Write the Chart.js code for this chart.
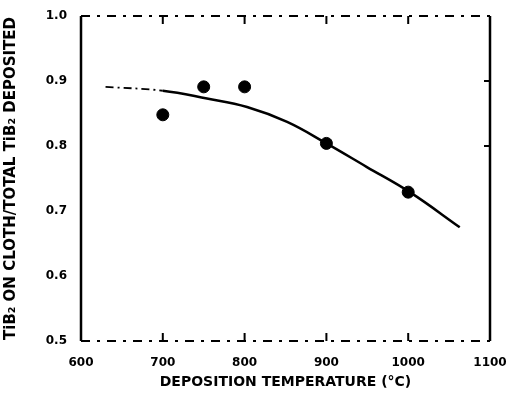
<!DOCTYPE html>
<html>
<head>
  <meta name="viewport" content="width=device-width, initial-scale=1.0">
  <title>TiB2 deposition</title>
  <script src="https://cdn.jsdelivr.net/npm/chart.js"></script>
  <style>
    html, body {
      margin: 0;
      padding: 0;
      background-color: #fff;
    }

    #wrap {
      width: 514px;
      height: 395px;
    }
  </style>
</head>
<body>
  <div id="wrap"><canvas id="myChart"></canvas></div>

  <script>
    // measured points
    const temps = [700, 750, 800, 900, 1000];
    const ratios = [0.848, 0.891, 0.891, 0.804, 0.729];

    // fitted curve
    const curveTemps = [630, 700, 754, 803, 852, 900, 949, 1002, 1063];
    const curveRatios = [0.891, 0.885, 0.873, 0.86, 0.837, 0.804, 0.768, 0.729, 0.675];

    const xTicks = [600, 700, 800, 900, 1000, 1100];
    const yTicks = [0.5, 0.6, 0.7, 0.8, 0.9, 1.0];

    const font = { family: 'DejaVu Sans', weight: 'bold', size: 12 };

    // frame with inward ticks, top and bottom broken like the scan
    const framePlugin = {
      id: 'frame',
      afterDraw(chart) {
        const { ctx, chartArea: a, scales } = chart;
        ctx.save();
        ctx.strokeStyle = '#000';
        ctx.lineWidth = 2.5;
        ctx.beginPath();
        ctx.moveTo(a.left, a.top);
        ctx.lineTo(a.left, a.bottom);
        ctx.moveTo(a.right, a.top);
        ctx.lineTo(a.right, a.bottom);
        ctx.stroke();

        ctx.lineWidth = 2;
        ctx.setLineDash([9, 7, 3, 7]);
        ctx.beginPath();
        ctx.moveTo(a.left, a.top);
        ctx.lineTo(a.right, a.top);
        ctx.moveTo(a.left, a.bottom);
        ctx.lineTo(a.right, a.bottom);
        ctx.stroke();
        ctx.setLineDash([]);

        ctx.beginPath();
        [700, 800, 900, 1000].forEach(v => {
          const x = scales.x.getPixelForValue(v);
          ctx.moveTo(x, a.top);
          ctx.lineTo(x, a.top + 8);
          ctx.moveTo(x, a.bottom);
          ctx.lineTo(x, a.bottom - 8);
        });
        [0.9, 0.8].forEach(v => {
          const y = scales.y.getPixelForValue(v);
          ctx.moveTo(a.right, y);
          ctx.lineTo(a.right - 6, y);
        });
        ctx.stroke();
        ctx.restore();
      }
    };

    const ctx = document.getElementById('myChart').getContext('2d');
    const chart = new Chart(ctx, {
      type: 'scatter',
      data: {
        datasets: [{
          label: 'Fit',
          data: curveTemps.map((t, i) => ({ x: t, y: curveRatios[i] })),
          showLine: true,
          borderColor: '#000',
          borderWidth: 2.5,
          pointRadius: 0,
          tension: 0.4,
          segment: {
            borderDash: c => c.p0DataIndex === 0 ? [8, 4, 2, 4] : undefined,
            borderWidth: c => c.p0DataIndex === 0 ? 1.8 : 2.5
          }
        }, {
          label: 'Data',
          data: temps.map((t, i) => ({ x: t, y: ratios[i] })),
          backgroundColor: '#000',
          borderColor: '#000',
          pointRadius: 6
        }]
      },
      options: {
        responsive: true,
        maintainAspectRatio: false,
        animation: false,
        layout: { padding: { top: 16, right: 24, left: 0, bottom: 0 } },
        plugins: {
          legend: { display: false },
          tooltip: { enabled: false }
        },
        scales: {
          x: {
            type: 'linear',
            min: 600,
            max: 1100,
            afterBuildTicks: s => { s.ticks = xTicks.map(v => ({ value: v })); },
            ticks: { color: '#000', font: font, padding: 7, maxRotation: 0, callback: v => String(v) },
            grid: { display: false },
            border: { display: false },
            title: {
              display: true,
              text: 'DEPOSITION TEMPERATURE (°C)',
              color: '#000',
              font: { family: 'DejaVu Sans', weight: 'bold', size: 14 },
              padding: { top: 4, bottom: 4 }
            },
            afterFit: s => { s.height = 54; }
          },
          y: {
            min: 0.5,
            max: 1.0,
            afterBuildTicks: s => { s.ticks = yTicks.map(v => ({ value: v })); },
            ticks: {
              color: '#000',
              font: font,
              padding: 6,
              callback: v => v.toFixed(1)
            },
            grid: { display: false },
            border: { display: false },
            title: {
              display: true,
              text: 'TiB₂ ON CLOTH/TOTAL TiB₂ DEPOSITED',
              color: '#000',
              font: { family: 'DejaVu Sans', weight: 'bold', size: 15 },
              padding: { top: 2, bottom: 2 }
            },
            afterFit: s => { s.width = 81; }
          }
        }
      },
      plugins: [framePlugin]
    });
  </script>
</body>
</html>
